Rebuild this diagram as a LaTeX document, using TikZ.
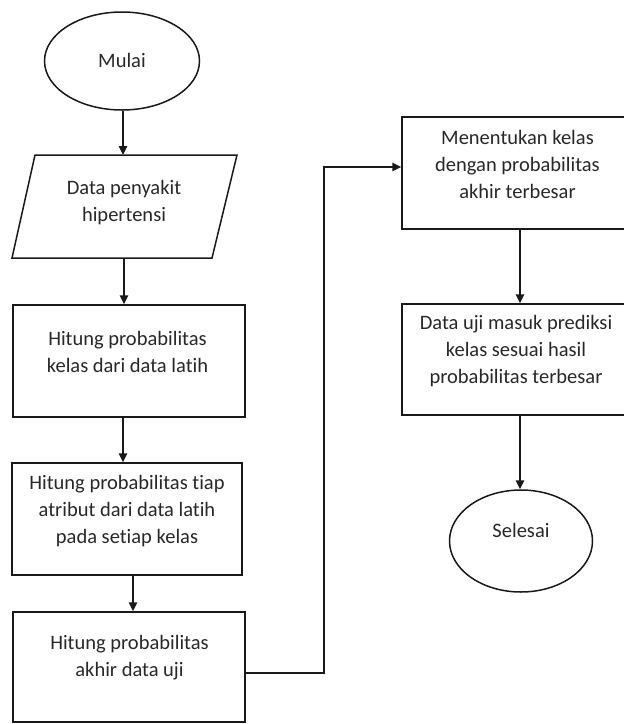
\documentclass[tikz,border=0pt]{standalone}
\usepackage{fontspec}
\setmainfont[Ligatures={NoCommon}]{Carlito}
\usetikzlibrary{arrows.meta,shapes.geometric}
\definecolor{ink}{RGB}{25,25,25}
\definecolor{txtc}{RGB}{40,40,40}
\begin{document}
\begin{tikzpicture}[x=1pt,y=-1pt,
  shapeline/.style={draw=ink,line width=1.5pt,fill=white},
  procbox/.style={shapeline,rectangle,inner sep=0pt},
  termnode/.style={shapeline,ellipse,inner sep=0pt},
  label/.style={text=txtc,font=\fontsize{20.5}{27}\selectfont,align=center,inner sep=0pt},
  flow/.style={draw=ink,line width=1.5pt,-{Triangle[length=9pt,width=8.5pt]}}]
\useasboundingbox (0,0) rectangle (624,724);
\clip (0,0) rectangle (624,724);

% terminators
\node[termnode,minimum width=155pt,minimum height=98pt] (mulai) at (122,61) {};
\node[label] (mulaitxt) at (122,60) {Mulai};
\node[termnode,minimum width=143pt,minimum height=102pt] (selesai) at (521,541) {};
\node[label] (selesaitxt) at (521,530) {Selesai};

% input parallelogram
\draw[shapeline] (35,155) -- (237,155) -- (212,258) -- (12,258) -- cycle;
\coordinate (datatop) at (123,155);
\coordinate (databot) at (124,258);
\node[label] (datatxt) at (124,203) {Data penyakit\\hipertensi};

% process boxes, left column
\node[procbox,minimum width=232pt,minimum height=112pt] (b1) at (129,361) {};
\node[label] (b1txt) at (127.5,352) {Hitung probabilitas\\kelas dari data latih};
\node[procbox,minimum width=230pt,minimum height=112pt] (b2) at (127,519) {};
\node[label] (b2txt) at (127,511) {Hitung probabilitas tiap\\atribut dari data latih\\pada setiap kelas};
\node[procbox,minimum width=232pt,minimum height=110pt] (b3) at (129,667) {};
\node[label] (b3txt) at (129.5,658) {Hitung probabilitas\\akhir data uji};

% process boxes, right column
\node[procbox,minimum width=234pt,minimum height=112pt] (b4) at (519,173) {};
\node[label] (b4txt) at (517.5,164) {Menentukan kelas\\dengan probabilitas\\akhir terbesar};
\node[procbox,minimum width=234pt,minimum height=111pt] (b5) at (519,359.5) {};
\node[label] (b5txt) at (516,351) {Data uji masuk prediksi\\kelas sesuai hasil\\probabilitas terbesar};

% connectors
\draw[flow] ([xshift=1pt]mulai.south) -- (datatop);
\draw[flow] (databot) -- (databot |- b1.north);
\draw[flow] ([xshift=-6pt]b1.south) -- ([xshift=-6pt]b1.south |- b2.north);
\draw[flow] ([xshift=6pt]b2.south) -- ([xshift=6pt]b2.south |- b3.north);
\draw[flow] ([yshift=-6pt]b3.east) -- ++(78,0) |- ([yshift=6pt]b4.west);
\draw[flow] ([xshift=1pt]b4.south) -- ([xshift=1pt]b4.south |- b5.north);
\draw[flow] ([xshift=1pt]b5.south) -- ([xshift=1pt]b5.south |- selesai.north);
\end{tikzpicture}
\end{document}
